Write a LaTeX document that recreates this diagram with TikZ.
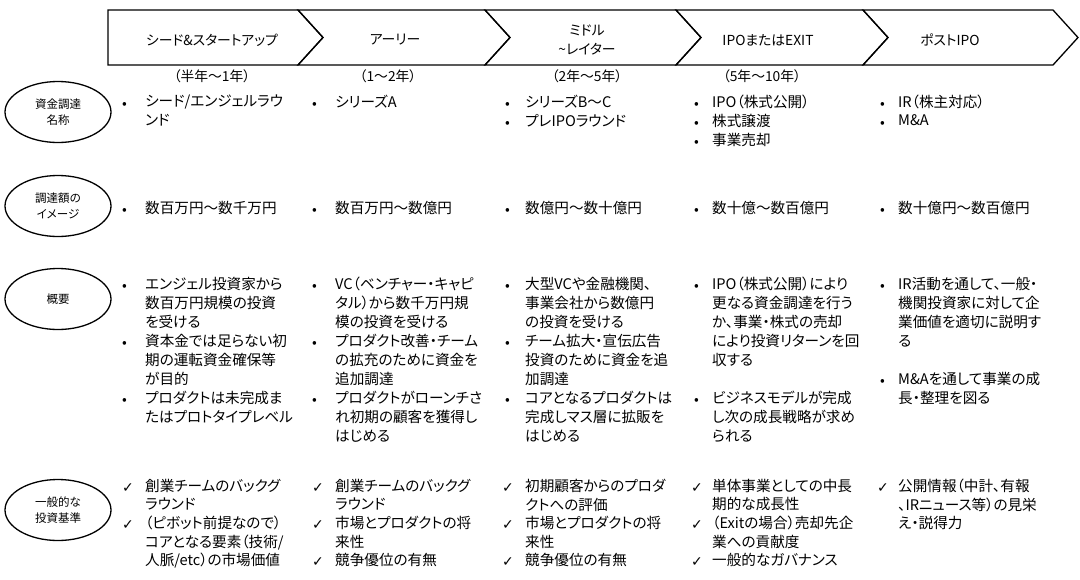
\documentclass[tikz,border=0pt]{standalone}
\usepackage{fontspec}
\setmainfont[RawFeature=+palt]{Noto Sans CJK JP}
\newfontfamily\dv{DejaVu Sans}
\usetikzlibrary{shapes.geometric}
\begin{document}
\begin{tikzpicture}[x=1pt,y=-1pt,
  txt/.style={anchor=north west,yshift=13pt,inner sep=0,align=left,font=\fontsize{14.6}{19}\selectfont},
  txtb/.style={txt,font=\fontsize{14.6}{18.5}\selectfont},
  mk/.style={anchor=base west,inner sep=0,font=\fontsize{14}{19}\selectfont},
  oval/.style={draw,line width=1.3pt,ellipse,minimum width=106,minimum height=61,inner sep=0,align=center,font=\fontsize{11.5}{15.5}\selectfont},
  stage/.style={draw,line width=1.3pt,line join=miter},
  lab/.style={inner sep=0,align=center,font=\fontsize{13.8}{19}\selectfont}]
\useasboundingbox (0,0) rectangle (1080,579);
% chevrons
\draw[stage] (108,10) -- (298,10) -- (323,37.5) -- (298,65) -- (108,65) -- cycle;
\draw[stage] (298,10) -- (485,10) -- (510,37.5) -- (485,65) -- (298,65) -- (323,37.5) -- cycle;
\draw[stage] (485,10) -- (676,10) -- (701,37.5) -- (676,65) -- (485,65) -- (510,37.5) -- cycle;
\draw[stage] (676,10) -- (863,10) -- (888,37.5) -- (863,65) -- (676,65) -- (701,37.5) -- cycle;
\draw[stage] (863,10) -- (1053,10) -- (1078,37.5) -- (1053,65) -- (863,65) -- (888,37.5) -- cycle;
\node[lab] (s1) at (212,40) {シード\&スタートアップ};
\node[lab] (s2) at (395,40) {アーリー};
\node[lab] (s3) at (587,40) {ミドル\\\textasciitilde レイター};
\node[lab] (s4) at (768,40) {IPOまたはEXIT};
\node[lab] (s5) at (950,40) {ポストIPO};
\node[lab] (y1) at (212,76) {（半年〜1年）};
\node[lab] (y2) at (388,76) {（1〜2年）};
\node[lab] (y3) at (587,76) {（2年〜5年）};
\node[lab] (y4) at (762,76) {（5年〜10年）};
% ovals
\node[oval] (o1) at (58,112) {資金調達\\名称};
\node[oval] (o2) at (58,206) {調達額の\\イメージ};
\node[oval] (o3) at (58,299) {概要};
\node[oval] (o4) at (58,510) {一般的な\\投資基準};
% row 1
\node[mk] (a1b) at (122,108) {•}; \node[txt] (a1) at (145,108) {シード/エンジェルラウ\\ンド};
\node[mk] (b1b) at (312,108) {•}; \node[txt] (b1) at (335,108) {シリーズA};
\node[mk] (c1b) at (505,108) {•}; \node[txt] (c1) at (525,108) {シリーズB〜C};
\node[mk] (c1bb) at (505,127) {•}; \node[txt] (c1x) at (525,127) {プレIPOラウンド};
\node[mk] (d1b) at (694,108) {•}; \node[txt] (d1) at (712,108) {IPO（株式公開）};
\node[mk] (d1bb) at (694,127) {•}; \node[txt] (d1x) at (712,127) {株式譲渡};
\node[mk] (d1bbb) at (694,146) {•}; \node[txt] (d1y) at (712,146) {事業売却};
\node[mk] (e1b) at (880,108) {•}; \node[txt] (e1) at (898,108) {IR（株主対応）};
\node[mk] (e1bb) at (880,127) {•}; \node[txt] (e1x) at (898,127) {M\&A};
% row 2
\node[mk] (a2b) at (122,214) {•}; \node[txt] (a2) at (145,214) {数百万円〜数千万円};
\node[mk] (b2b) at (312,214) {•}; \node[txt] (b2) at (335,214) {数百万円〜数億円};
\node[mk] (c2b) at (505,214) {•}; \node[txt] (c2) at (525,214) {数億円〜数十億円};
\node[mk] (d2b) at (694,214) {•}; \node[txt] (d2) at (712,214) {数十億〜数百億円};
\node[mk] (e2b) at (880,214) {•}; \node[txt] (e2) at (898,214) {数十億円〜数百億円};
% row 3
\node[mk] (a3b) at (122,290) {•}; \node[txt] (a3) at (145,290) {エンジェル投資家から\\数百万円規模の投資\\を受ける};
\node[mk] (a3bb) at (122,347) {•}; \node[txt] (a3x) at (145,347) {資本金では足らない初\\期の運転資金確保等\\が目的};
\node[mk] (a3bbb) at (122,404) {•}; \node[txt] (a3y) at (145,404) {プロダクトは未完成ま\\たはプロトタイプレベル};
\node[mk] (b3b) at (312,290) {•}; \node[txt] (b3) at (335,290) {VC（ベンチャー・キャピ\\タル）から数千万円規\\模の投資を受ける};
\node[mk] (b3bb) at (312,347) {•}; \node[txt] (b3x) at (335,347) {プロダクト改善・チーム\\の拡充のために資金を\\追加調達};
\node[mk] (b3bbb) at (312,404) {•}; \node[txt] (b3y) at (335,404) {プロダクトがローンチさ\\れ初期の顧客を獲得し\\はじめる};
\node[mk] (c3b) at (505,290) {•}; \node[txt] (c3) at (525,290) {大型VCや金融機関、\\事業会社から数億円\\の投資を受ける};
\node[mk] (c3bb) at (505,347) {•}; \node[txt] (c3x) at (525,347) {チーム拡大・宣伝広告\\投資のために資金を追\\加調達};
\node[mk] (c3bbb) at (505,404) {•}; \node[txt] (c3y) at (525,404) {コアとなるプロダクトは\\完成しマス層に拡販を\\はじめる};
\node[mk] (d3b) at (694,290) {•}; \node[txt] (d3) at (712,290) {IPO（株式公開）により\\更なる資金調達を行う\\か、事業・株式の売却\\により投資リターンを回\\収する};
\node[mk] (d3bb) at (694,404) {•}; \node[txt] (d3x) at (712,404) {ビジネスモデルが完成\\し次の成長戦略が求め\\られる};
\node[mk] (e3b) at (880,290) {•}; \node[txt] (e3) at (898,290) {IR活動を通して、一般・\\機関投資家に対して企\\業価値を適切に説明す\\る};
\node[mk] (e3bb) at (880,385) {•}; \node[txt] (e3x) at (898,385) {M\&Aを通して事業の成\\長・整理を図る};
% row 4
\node[mk] (a4b) at (122,492) {\dv ✓}; \node[txtb] (a4) at (145,492) {創業チームのバックグ\\ラウンド};
\node[mk] (a4bb) at (122,529) {\dv ✓}; \node[txtb] (a4x) at (145,529) {（ピボット前提なので）\\コアとなる要素（技術/\\人脈/etc）の市場価値};
\node[mk] (b4b) at (312,492) {\dv ✓}; \node[txtb] (b4) at (335,492) {創業チームのバックグ\\ラウンド};
\node[mk] (b4bb) at (312,529) {\dv ✓}; \node[txtb] (b4x) at (335,529) {市場とプロダクトの将\\来性};
\node[mk] (b4bbb) at (312,566) {\dv ✓}; \node[txtb] (b4y) at (335,566) {競争優位の有無};
\node[mk] (c4b) at (502,492) {\dv ✓}; \node[txtb] (c4) at (525,492) {初期顧客からのプロダ\\クトへの評価};
\node[mk] (c4bb) at (502,529) {\dv ✓}; \node[txtb] (c4x) at (525,529) {市場とプロダクトの将\\来性};
\node[mk] (c4bbb) at (502,566) {\dv ✓}; \node[txtb] (c4y) at (525,566) {競争優位の有無};
\node[mk] (d4b) at (691,492) {\dv ✓}; \node[txtb] (d4) at (712,492) {単体事業としての中長\\期的な成長性};
\node[mk] (d4bb) at (691,529) {\dv ✓}; \node[txtb] (d4x) at (712,529) {（Exitの場合）売却先企\\業への貢献度};
\node[mk] (d4bbb) at (691,566) {\dv ✓}; \node[txtb] (d4y) at (712,566) {一般的なガバナンス};
\node[mk] (e4b) at (877,492) {\dv ✓}; \node[txtb] (e4) at (898,492) {公開情報（中計、有報\\、IRニュース等）の見栄\\え・説得力};
\end{tikzpicture}
\end{document}
